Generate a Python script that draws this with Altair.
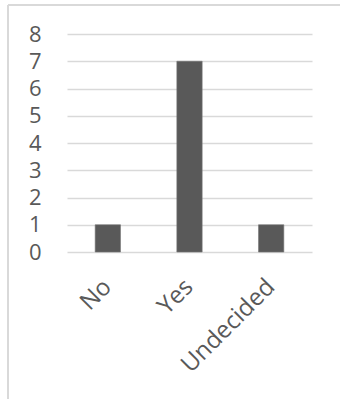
import altair as alt
import pandas as pd

# Survey answers and their counts
answers = ["No", "Yes", "Undecided"]
counts = [1, 7, 1]

df = pd.DataFrame({"answer": answers, "count": counts})

TEXT = "#595959"
GRID = "#d9d9d9"
FONT = "Open Sans"

bars = alt.Chart(df).mark_bar(color="#595959", stroke="#767676", strokeWidth=0.6).encode(
    x=alt.X(
        "answer:N",
        sort=answers,
        title=None,
        scale=alt.Scale(paddingInner=0.69, paddingOuter=0.345),
        axis=alt.Axis(
            labelAngle=-45,
            labelAlign="right",
            labelBaseline="middle",
            labelFontSize=24,
            labelColor=TEXT,
            labelFont=FONT,
            labelPadding=31,
            ticks=False,
            domain=False,
        ),
    ),
    y=alt.Y(
        "count:Q",
        title=None,
        scale=alt.Scale(domain=[0, 8], nice=False),
        axis=alt.Axis(
            values=list(range(0, 9)),
            labelFontSize=22,
            labelColor=TEXT,
            labelFont=FONT,
            labelPadding=26,
            ticks=False,
            domain=False,
            grid=True,
            gridColor=GRID,
            gridWidth=1.3,
        ),
    ),
)

# Light frame around the chart area (left and top edges fall inside the window)
frame_left = alt.Chart(df).mark_rule(color=GRID, strokeWidth=1.5).encode(
    x=alt.value(-59), y=alt.value(-29), y2=alt.value(400)
)
frame_top = alt.Chart(df).mark_rule(color=GRID, strokeWidth=1.5).encode(
    x=alt.value(-59), x2=alt.value(300), y=alt.value(-29)
)

chart = (
    alt.layer(frame_left, frame_top, bars)
    .properties(
        width=245,
        height=218,
        autosize=alt.AutoSizeParams(type="none"),
        padding={"left": 67, "top": 34, "right": 28, "bottom": 147},
        background="white",
    )
    .configure_view(stroke=None)
)

chart.save("out.html", embed_options={"renderer": "svg", "actions": False})
